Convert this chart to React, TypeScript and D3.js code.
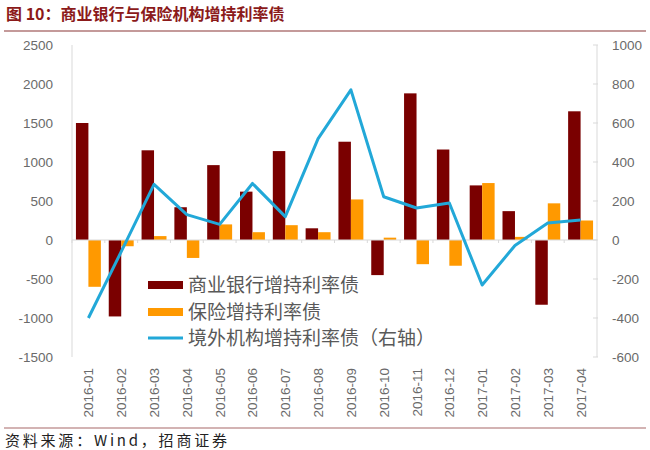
import React from "react";
import * as d3 from "d3";

const months = ["2016-01","2016-02","2016-03","2016-04","2016-05","2016-06","2016-07","2016-08","2016-09","2016-10","2016-11","2016-12","2017-01","2017-02","2017-03","2017-04"];
const bankValues = [1500,-980,1150,420,960,620,1140,150,1260,-450,1880,1160,700,370,-830,1650];
const insuranceValues = [-600,-80,50,-230,200,100,190,100,520,30,-310,-330,730,40,470,250];
const foreignValues = [-400,-60,285,130,80,290,120,520,770,222,164,190,-231,-28,87,103];
const leftTicks = [-1500,-1000,-500,0,500,1000,1500,2000,2500];
const rightTicks = [-600,-400,-200,0,200,400,600,800,1000];
const seriesNames = ["商业银行增持利率债","保险增持利率债","境外机构增持利率债（右轴）"];

const W = 650, H = 450;
const L = 72, R = 597, T = 45, B = 357;
const BANK = "#7a0000", INS = "#ff9900", LINE = "#22a8d8";
const TXT = "#595959";
const TICK = "#6a6a6a";
const CJK = "'Noto Sans CJK SC', 'Liberation Sans', sans-serif";
const LAT = "'Liberation Sans', Arial, sans-serif";

export default function App() {
  const x = d3.scaleBand<string>().domain(months).range([L, R]).paddingInner(0.24).paddingOuter(0.12);
  const sub = d3.scaleBand<string>().domain(["bank","ins"]).range([0, x.bandwidth()]);
  const yL = d3.scaleLinear().domain([-1500, 2500]).range([B, T]);
  const yR = d3.scaleLinear().domain([-600, 1000]).range([B, T]);
  const cx = (m: string) => (x(m) as number) + x.bandwidth() / 2;
  const line = d3.line<number>().x((_, i) => cx(months[i])).y((v) => yR(v));
  const zero = yL(0);

  return (
    <svg width={W} height={H} style={{ position: "absolute", left: 0, top: 0, background: "#fff" }}>
      <text x={6} y={20} fontFamily={CJK} fontSize={16} fontWeight="bold" fill="#8b1a1a">图 10：商业银行与保险机构增持利率债</text>
      <line x1={4} x2={646} y1={31} y2={31} stroke="#c49a9a" strokeWidth={2} />

      {/* axes */}
      <line x1={L} x2={L} y1={T} y2={B} stroke="#d9d9d9" />
      <line x1={R} x2={R} y1={T} y2={B} stroke="#d9d9d9" />
      {rightTicks.map((t) => (
        <line key={"rt" + t} x1={R - 4} x2={R + 1} y1={yR(t)} y2={yR(t)} stroke="#d9d9d9" />
      ))}
      {leftTicks.map((t) => (
        <text key={"l" + t} x={53} y={yL(t) + 5} textAnchor="end" fontFamily={LAT} fontSize={13.5} fill={TICK}>{t}</text>
      ))}
      {rightTicks.map((t) => (
        <text key={"r" + t} x={612} y={yR(t) + 5} textAnchor="start" fontFamily={LAT} fontSize={13.5} fill={TICK}>{t}</text>
      ))}

      {/* bars */}
      {months.map((m, i) => (
        <g key={"b" + m}>
          <rect x={(x(m) as number) + (sub("bank") as number)} width={sub.bandwidth()}
            y={Math.min(yL(bankValues[i]), zero)} height={Math.abs(yL(bankValues[i]) - zero)} fill={BANK} />
          <rect x={(x(m) as number) + (sub("ins") as number)} width={sub.bandwidth()}
            y={Math.min(yL(insuranceValues[i]), zero)} height={Math.abs(yL(insuranceValues[i]) - zero)} fill={INS} />
        </g>
      ))}
      <line x1={L} x2={R} y1={zero} y2={zero} stroke="#d9d9d9" />
      {months.map((m) => (
        <line key={"zt" + m} x1={(x(m) as number) - x.step() * 0.12} x2={(x(m) as number) - x.step() * 0.12} y1={zero} y2={zero + 3} stroke="#d9d9d9" />
      ))}

      <path d={line(foreignValues) || ""} fill="none" stroke={LINE} strokeWidth={3} strokeLinejoin="round" />

      {/* x labels */}
      {months.map((m) => (
        <text key={"x" + m} transform={`translate(${cx(m) + 5},368) rotate(-90)`} textAnchor="end"
          fontFamily={LAT} fontSize={13.5} fill={TICK}>{m}</text>
      ))}

      {/* legend */}
      <rect x={148} y={281} width={35} height={8} fill={BANK} />
      <text x={188} y={292} fontFamily={CJK} fontSize={19} fill={TXT}>{seriesNames[0]}</text>
      <rect x={148} y={308} width={35} height={8} fill={INS} />
      <text x={188} y={319} fontFamily={CJK} fontSize={19} fill={TXT}>{seriesNames[1]}</text>
      <line x1={148} x2={183} y1={338} y2={338} stroke={LINE} strokeWidth={3} />
      <text x={188} y={345} fontFamily={CJK} fontSize={19} fill={TXT}>{seriesNames[2]}</text>

      <line x1={4} x2={646} y1={428} y2={428} stroke="#c49a9a" strokeWidth={1.5} />
      <text x={5} y={446} fontFamily={CJK} fontSize={15} fill="#222" textLength={222} lengthAdjust="spacing">资料来源：Wind，招商证券</text>
    </svg>
  );
}
